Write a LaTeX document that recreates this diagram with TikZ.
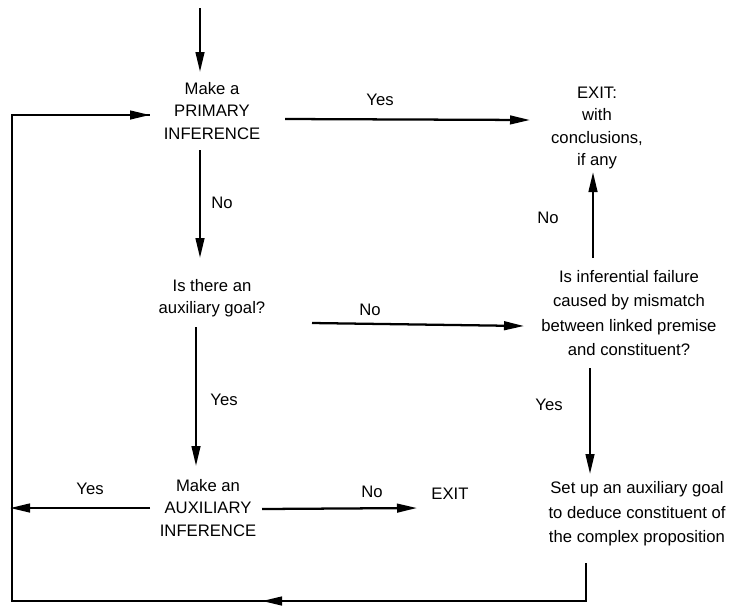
\documentclass[tikz,border=0pt]{standalone}
\usepackage{fontspec}
\setmainfont{Liberation Sans}
\usetikzlibrary{arrows.meta}
\begin{document}
\begin{tikzpicture}[x=0.75pt,y=-0.75pt,
  txt/.style={align=center,inner sep=0pt,font=\fontsize{12.5}{16.8}\selectfont},
  lbl/.style={inner sep=0pt,font=\fontsize{12.5}{14}\selectfont},
  conn/.style={line width=1.7pt},
  arr/.style={conn,-{Triangle[length=15pt,width=6.5pt]}}]
\useasboundingbox (0,0) rectangle (734,612);
\node[txt] (prim) at (212,111) {Make a\\PRIMARY\\INFERENCE};
\node[txt] (exit1) at (597,128) {EXIT:\\with\\conclusions,\\if any};
\node[txt] (goal) at (212,298) {Is there an\\auxiliary goal?};
\node[txt,font=\fontsize{12.5}{18.3}\selectfont] (fail) at (629,313) {Is inferential failure\\caused by mismatch\\between linked premise\\and constituent?};
\node[txt] (auxi) at (208,508) {Make an\\AUXILIARY\\INFERENCE};
\node[txt] (exit2) at (450,494) {EXIT};
\node[txt,font=\fontsize{12.5}{18.3}\selectfont] (setup) at (637,514) {Set up an auxiliary goal\\to deduce constituent of\\the complex proposition};
\coordinate (start) at (200,8);
\coordinate (bl) at (12,601);
\coordinate (tl) at (12,115);
\coordinate (br) at (586,601);
\coordinate (bm) at (262,601);
\coordinate (auxl) at (10,508);
% top entry
\draw[arr] (start) -- (200,72);
% primary -> exit (Yes)
\draw[arr] (285,119) -- (530,120);
\node[lbl] (y1) at (380,100) {Yes};
% primary -> goal (No)
\draw[arr] (200,150) -- (200,258);
\node[lbl] (n1) at (222,203) {No};
% goal -> fail (No)
\draw[arr] (312,323) -- (524,326);
\node[lbl] (n2) at (370,310) {No};
% fail -> exit (No)
\draw[arr] (593,258) -- (593,172);
\node[lbl] (n3) at (548,218) {No};
% goal -> auxi (Yes)
\draw[arr] (196,327) -- (196,466);
\node[lbl] (y2) at (224,400) {Yes};
% fail -> setup (Yes)
\draw[arr] (590,368) -- (590,474);
\node[lbl] (y3) at (549,405) {Yes};
% auxi -> EXIT (No)
\draw[arr] (262,509) -- (417,508);
\node[lbl] (n4) at (372,492) {No};
% auxi -> loop (Yes)
\draw[arr] (150,508) -- (auxl);
\node[lbl] (y4) at (90,489) {Yes};
% loop back
\draw[conn,line join=miter] (586,563) -- (br) -- (bl) -- (tl) -- (150,115);
\draw[arr] (tl) -- (150,115);
\draw[arr] (br) -- (bm);
\end{tikzpicture}
\end{document}
